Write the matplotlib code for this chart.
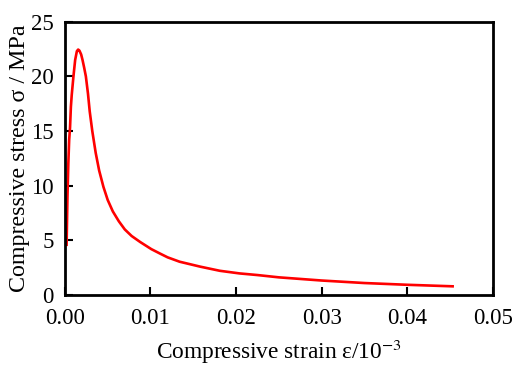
import matplotlib
matplotlib.use("Agg")
import matplotlib.pyplot as plt

strain = [0.0002, 0.0003, 0.0004, 0.0005, 0.0006, 0.0007, 0.0008, 0.0010,
          0.0012, 0.0014, 0.00155, 0.0017, 0.0019, 0.00206, 0.00225, 0.00245,
          0.0027, 0.0029, 0.0032, 0.0036, 0.0040, 0.0045, 0.0050, 0.0056,
          0.0063, 0.0070, 0.0078, 0.0088, 0.0101, 0.0111, 0.0120, 0.0134,
          0.0158, 0.0181, 0.0204, 0.0225, 0.0250, 0.0300, 0.0350, 0.0400,
          0.0453]
stress = [4.6, 9.0, 12.0, 14.2, 15.3, 17.2, 18.3, 20.0,
          21.5, 22.3, 22.45, 22.35, 22.0, 21.5, 20.8, 20.0,
          18.4, 16.8, 15.0, 13.0, 11.4, 9.9, 8.7, 7.65,
          6.75, 6.0, 5.4, 4.85, 4.2, 3.8, 3.45, 3.05,
          2.6, 2.22, 1.98, 1.83, 1.62, 1.33, 1.1, 0.94,
          0.8]
xticks = [0.00, 0.01, 0.02, 0.03, 0.04, 0.05]
yticks = [0, 5, 10, 15, 20, 25]

plt.rcParams["font.family"] = ["Liberation Serif", "DejaVu Serif"]
plt.rcParams["mathtext.fontset"] = "stix"

fig = plt.figure(figsize=(5.15, 3.67), dpi=100)
ax = fig.add_axes([0.126, 0.196, 0.831, 0.745])
ax.plot(strain, stress, color="#ff0000", lw=1.9)

ax.set_xlim(0, 0.05)
ax.set_ylim(0, 25)
ax.set_xticks(xticks)
ax.set_xticklabels([f"{t:.2f}" for t in xticks])
ax.set_yticks(yticks)
for s in ax.spines.values():
    s.set_linewidth(2)
ax.tick_params(direction="in", length=6, width=1.5, labelsize=16.5)
ax.tick_params(axis="x", pad=9.5)
ax.tick_params(axis="y", pad=8)
ax.set_xlabel("Compressive strain ε/10$^{-3}$", fontsize=16.8, labelpad=6)
ax.set_ylabel("Compressive stress σ / MPa", fontsize=17.3, labelpad=1)

fig.savefig("out.png", dpi=100)
